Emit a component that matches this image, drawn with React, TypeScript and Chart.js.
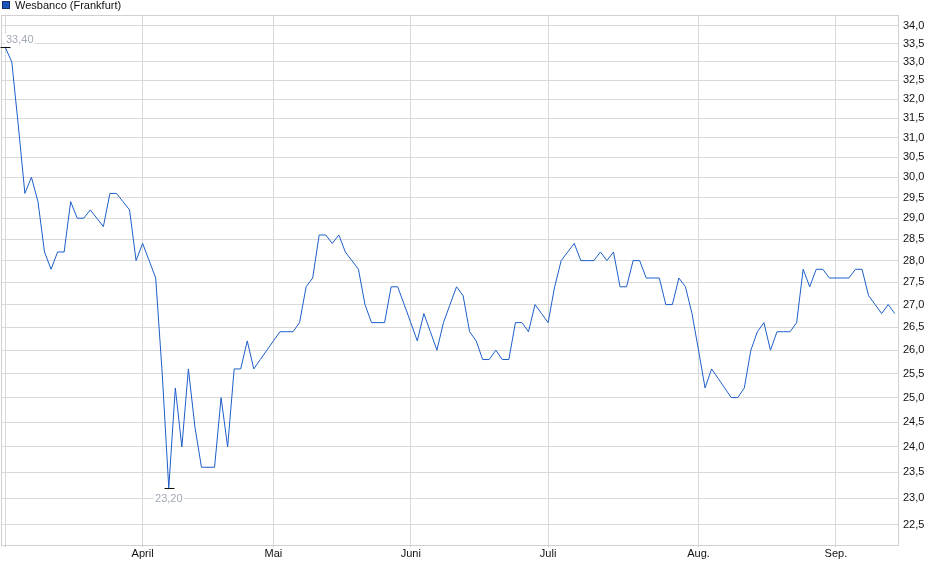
import React, { useEffect, useRef } from 'react';
import { Chart, registerables, Plugin } from 'chart.js';

Chart.register(...registerables);

const seriesName = 'Wesbanco (Frankfurt)';

// closing prices (EUR), one per trading day, 03.03.2025 .. 12.09.2025
const closes: number[] = [
  33.4, 33.0, 31.3, 29.6, 30.0, 29.4, 28.2, 27.8, 28.2, 28.2,
  29.4, 29.0, 29.0, 29.2, 29.0, 28.8, 29.6, 29.6, 29.4, 29.2,
  28.0, 28.4, 28.0, 27.6, 25.5, 23.2, 25.2, 24.0, 25.6, 24.4,
  23.6, 23.6, 23.6, 25.0, 24.0, 25.6, 25.6, 26.2, 25.6, 25.8,
  26.0, 26.2, 26.4, 26.4, 26.4, 26.6, 27.4, 27.6, 28.6, 28.6,
  28.4, 28.6, 28.2, 28.0, 27.8, 27.0, 26.6, 26.6, 26.6, 27.4,
  27.4, 27.0, 26.6, 26.2, 26.8, 26.4, 26.0, 26.6, 27.0, 27.4,
  27.2, 26.4, 26.2, 25.8, 25.8, 26.0, 25.8, 25.8, 26.6, 26.6,
  26.4, 27.0, 26.8, 26.6, 27.4, 28.0, 28.2, 28.4, 28.0, 28.0,
  28.0, 28.2, 28.0, 28.2, 27.4, 27.4, 28.0, 28.0, 27.6, 27.6,
  27.6, 27.0, 27.0, 27.6, 27.4, 26.8, 26.0, 25.2, 25.6, 25.4,
  25.2, 25.0, 25.0, 25.2, 26.0, 26.4, 26.6, 26.0, 26.4, 26.4,
  26.4, 26.6, 27.8, 27.4, 27.8, 27.8, 27.6, 27.6, 27.6, 27.6,
  27.8, 27.8, 27.2, 27.0, 26.8, 27.0, 26.8,
];

// first trading day of each month (index into closes)
const monthTickIndex = [0, 21, 41, 62, 83, 106, 127];
const monthTickLabels = ['', 'April', 'Mai', 'Juni', 'Juli', 'Aug.', 'Sep.'];

const priceTicks = [
  22.5, 23.0, 23.5, 24.0, 24.5, 25.0, 25.5, 26.0, 26.5, 27.0, 27.5, 28.0,
  28.5, 29.0, 29.5, 30.0, 30.5, 31.0, 31.5, 32.0, 32.5, 33.0, 33.5, 34.0,
];

const FONT = '"Liberation Sans", Arial, sans-serif';
const LINE = '#1d5ec9';
const GRID = '#d9d9d9';

const deNum = (v: number, d: number) => v.toFixed(d).replace('.', ',');

// frame round the plot area
const framePlugin: Plugin<'line'> = {
  id: 'frame',
  beforeDatasetsDraw(chart) {
    const { ctx, chartArea: a } = chart;
    ctx.save();
    ctx.strokeStyle = '#d0d0d0';
    ctx.lineWidth = 1;
    ctx.strokeRect(a.left - 0.5, a.top - 0.5, a.right - a.left + 1, a.bottom - a.top + 1);
    ctx.restore();
  },
};

// high / low markers with their values
const extremesPlugin: Plugin<'line'> = {
  id: 'extremes',
  afterDatasetsDraw(chart) {
    const { ctx, chartArea: a } = chart;
    const xs = chart.scales.x;
    const ys = chart.scales.y;
    const hi = closes.indexOf(Math.max(...closes));
    const lo = closes.indexOf(Math.min(...closes));
    ctx.save();
    ctx.font = `11px ${FONT}`;
    ctx.textBaseline = 'middle';
    [
      { i: hi, dy: -7.5 },
      { i: lo, dy: 11 },
    ].forEach(({ i, dy }) => {
      const px = xs.getPixelForValue(i);
      const py = ys.getPixelForValue(closes[i]);
      ctx.strokeStyle = '#111';
      ctx.lineWidth = 1;
      ctx.beginPath();
      ctx.moveTo(Math.round(px) - 4.5, Math.round(py) + 0.5);
      ctx.lineTo(Math.round(px) + 5.5, Math.round(py) + 0.5);
      ctx.stroke();
      const text = deNum(closes[i], 2);
      const w = ctx.measureText(text).width;
      const left = Math.max(a.left + 4, px - w / 2);
      ctx.fillStyle = '#fff';
      ctx.fillRect(left - 1, py + dy - 6, w + 2, 12);
      ctx.fillStyle = '#a2aab6';
      ctx.textAlign = 'left';
      ctx.fillText(text, left, py + dy);
    });
    ctx.restore();
  },
};

// legend entry top left
const legendPlugin: Plugin<'line'> = {
  id: 'legendBox',
  afterDraw(chart) {
    const { ctx } = chart;
    ctx.save();
    ctx.fillStyle = '#1a55bb';
    ctx.fillRect(3, 2, 6, 6);
    ctx.strokeStyle = '#13306e';
    ctx.lineWidth = 1;
    ctx.strokeRect(2.5, 1.5, 7, 7);
    ctx.fillStyle = '#111';
    ctx.font = `11px ${FONT}`;
    ctx.textBaseline = 'middle';
    ctx.textAlign = 'left';
    ctx.fillText(seriesName, 15, 6);
    ctx.restore();
  },
};

const App: React.FC = () => {
  const canvasRef = useRef<HTMLCanvasElement>(null);
  const chartRef = useRef<Chart | null>(null);

  useEffect(() => {
    document.body.style.margin = '0';
    if (!canvasRef.current) return;
    if (chartRef.current) chartRef.current.destroy();

    chartRef.current = new Chart(canvasRef.current, {
      type: 'line',
      data: {
        datasets: [
          {
            label: seriesName,
            data: closes.map((v, i) => ({ x: i, y: v })),
            borderColor: LINE,
            borderWidth: 1,
            pointRadius: 0,
            tension: 0,
            fill: false,
          },
        ],
      },
      options: {
        animation: false,
        responsive: false,
        layout: { padding: { left: 2, top: 16, right: 0, bottom: 0 } },
        plugins: {
          legend: { display: false },
          tooltip: { enabled: false },
        },
        scales: {
          x: {
            type: 'linear',
            min: -0.5,
            max: closes.length - 0.5,
            border: { display: false },
            grid: { color: GRID, tickLength: 2, tickColor: '#c8c8c8' },
            afterBuildTicks: (scale) => {
              scale.ticks = monthTickIndex.map((v) => ({ value: v }));
            },
            afterFit: (scale) => {
              scale.height = 34;
            },
            ticks: {
              autoSkip: false,
              maxRotation: 0,
              padding: 0,
              color: '#111',
              font: { family: FONT, size: 11 },
              callback: (v) => {
                const k = monthTickIndex.indexOf(Number(v));
                return k >= 0 ? monthTickLabels[k] : '';
              },
            },
          },
          y: {
            type: 'logarithmic',
            position: 'right',
            min: 22.13,
            max: 34.28,
            border: { display: false },
            grid: { color: GRID, drawTicks: false },
            afterBuildTicks: (scale) => {
              scale.ticks = priceTicks.map((v) => ({ value: v }));
            },
            afterFit: (scale) => {
              scale.width = 42;
            },
            ticks: {
              padding: 5,
              color: '#111',
              font: { family: FONT, size: 11 },
              callback: (v) => deNum(Number(v), 1),
            },
          },
        },
      },
      plugins: [framePlugin, extremesPlugin, legendPlugin],
    });

    return () => {
      if (chartRef.current) {
        chartRef.current.destroy();
        chartRef.current = null;
      }
    };
  }, []);

  return (
    <div style={{ width: 940, height: 579, background: '#fff' }}>
      <canvas ref={canvasRef} width={940} height={579} style={{ display: 'block' }}></canvas>
    </div>
  );
};

export default App;
